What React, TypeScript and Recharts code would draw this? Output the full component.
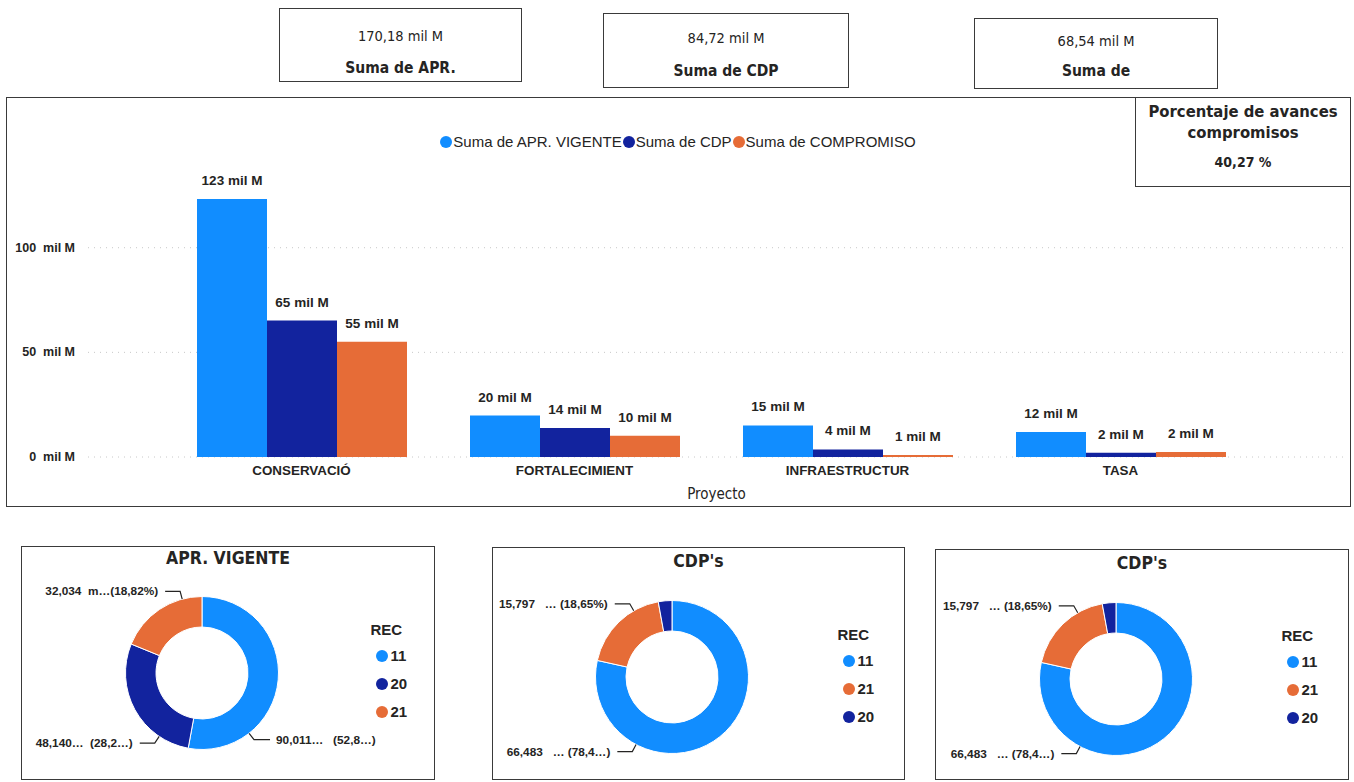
import React from "react";
import {
  BarChart,
  Bar,
  XAxis,
  YAxis,
  CartesianGrid,
  LabelList,
  Legend,
  Label,
  PieChart,
  Pie,
  Cell,
} from "recharts";

// --- data ---
const proyectos = ["CONSERVACIÓ", "FORTALECIMIENT", "INFRAESTRUCTUR", "TASA"];
const aprVigente = [123.3, 19.8, 15.1, 12.0];
const cdp = [65.2, 13.9, 3.6, 2.0];
const compromiso = [55.1, 10.1, 0.9, 2.4];
const yTicks = [0, 50, 100];

const kpiValues = ["170,18 mil M", "84,72 mil M", "68,54 mil M"];
const kpiTitles = ["Suma de APR.", "Suma de CDP", "Suma de"];

const aprRec = ["11", "20", "21"];
const aprValues = [90.011, 48.14, 32.034];
const aprLabels = ["90,011…   (52,8…)", "48,140…  (28,2…)", "32,034  m…(18,82%)"];

const cdpRec = ["11", "21", "20"];
const cdpValues = [66.483, 15.797, 2.44];
const cdpLabels = ["66,483   … (78,4…)", "15,797   … (18,65%)", ""];

const LIGHT = "#118DFF";
const DARK = "#12239E";
const ORANGE = "#E66C37";
const TEXT = "#252423";
const recColor: Record<string, string> = { "11": LIGHT, "20": DARK, "21": ORANGE };

const SANS = "'Liberation Sans', Arial, sans-serif";
const COND = "'DejaVu Sans Condensed', 'Liberation Sans Narrow', 'Liberation Sans', sans-serif";

const barData = proyectos.map((p, i) => ({
  proyecto: p,
  apr: aprVigente[i],
  cdp: cdp[i],
  comp: compromiso[i],
}));

const box = (left: number, top: number, width: number, height: number): React.CSSProperties => ({
  position: "absolute",
  left,
  top,
  width,
  height,
  border: "1.5px solid #3a3a3a",
  boxSizing: "border-box",
  background: "#fff",
});

const BarLegend = ({ payload }: any) => (
  <div
    style={{
      display: "flex",
      justifyContent: "center",
      alignItems: "center",
      fontFamily: SANS,
      fontSize: 15,
      color: TEXT,
    }}
  >
    {(payload || []).map((p: any) => (
      <span key={p.value} style={{ display: "flex", alignItems: "center", marginRight: 1 }}>
        <span
          style={{ width: 12, height: 12, borderRadius: 6, background: p.color, marginRight: 1 }}
        />
        {p.value}
      </span>
    ))}
  </div>
);

const RecLegend = ({ payload, order }: any) => {
  const items = [...(payload || [])].sort(
    (a: any, b: any) => order.indexOf(a.value) - order.indexOf(b.value)
  );
  return (
    <div style={{ fontFamily: SANS, color: TEXT, fontWeight: "bold" }}>
      <div style={{ fontSize: 15, marginBottom: 4 }}>REC</div>
      {items.map((p: any) => (
        <div key={p.value} style={{ display: "flex", alignItems: "center", height: 28, fontSize: 15 }}>
          <span
            style={{
              width: 12,
              height: 12,
              borderRadius: 6,
              background: p.color,
              marginLeft: 5,
              marginRight: 3,
            }}
          />
          {p.value}
        </div>
      ))}
    </div>
  );
};

const BarValueLabel = (props: any) => {
  const { x, y, width, value } = props;
  return (
    <text
      x={x + width / 2}
      y={y - 14}
      textAnchor="middle"
      fontFamily={SANS}
      fontSize={13.5}
      fontWeight="bold"
      fill={TEXT}
    >
      {`${Math.round(Number(value))} mil M`}
    </text>
  );
};

const YTick = (props: any) => {
  const { x, y, payload } = props;
  return (
    <text
      x={x}
      y={y}
      textAnchor="end"
      dominantBaseline="central"
      fontFamily={SANS}
      fontSize={12.5}
      fontWeight="bold"
      fill={TEXT}
      xmlSpace="preserve"
      style={{ whiteSpace: "pre" }}
    >
      {`${payload.value}  mil M`}
    </text>
  );
};

const makeLabel = (texts: string[], angles: (number | null)[]) => (props: any) => {
  const { cx, cy, outerRadius, index } = props;
  const a = angles[index];
  if (a == null || !texts[index]) return null;
  const rad = (a * Math.PI) / 180;
  const x0 = cx + outerRadius * Math.cos(rad);
  const y0 = cy - outerRadius * Math.sin(rad);
  const x1 = cx + (outerRadius + 8) * Math.cos(rad);
  const y1 = cy - (outerRadius + 8) * Math.sin(rad);
  const right = Math.cos(rad) > 0;
  const x2 = x1 + (right ? 16 : -15);
  return (
    <g>
      <polyline
        points={`${x0},${y0} ${x1},${y1} ${x2},${y1}`}
        fill="none"
        stroke={TEXT}
        strokeWidth={1.2}
      />
      <text
        x={x2 + (right ? 6 : -7)}
        y={y1}
        textAnchor={right ? "start" : "end"}
        dominantBaseline="central"
        fontFamily={SANS}
        fontSize={11.8}
        fontWeight="bold"
        fill={TEXT}
        xmlSpace="preserve"
        style={{ whiteSpace: "pre" }}
      >
        {texts[index]}
      </text>
    </g>
  );
};

interface DonutProps {
  title: string;
  recs: string[];
  values: number[];
  labels: string[];
  labelAngles: (number | null)[];
  left: number;
  top: number;
  width: number;
  height: number;
  cx: number;
  cy: number;
  legendLeft: number;
  legendTop: number;
  titleTop: number;
}

const Donut: React.FC<DonutProps> = (p) => {
  const data = p.recs.map((r, i) => ({ name: r, value: p.values[i] }));
  return (
    <div style={box(p.left, p.top, p.width, p.height)}>
      <div
        style={{
          position: "absolute",
          top: p.titleTop,
          width: "100%",
          textAlign: "center",
          fontFamily: COND,
          fontWeight: "bold",
          fontSize: 17.5,
          color: TEXT,
        }}
      >
        {p.title}
      </div>
      <div style={{ position: "absolute", left: -1.5, top: -1.5 }}>
        <PieChart width={p.width} height={p.height} margin={{ top: 0, right: 0, bottom: 0, left: 0 }}>
          <Pie
            data={data}
            dataKey="value"
            nameKey="name"
            cx={p.cx}
            cy={p.cy}
            innerRadius={46}
            outerRadius={76.5}
            startAngle={90}
            endAngle={-270}
            stroke="#fff"
            strokeWidth={1}
            labelLine={false}
            label={makeLabel(p.labels, p.labelAngles)}
            isAnimationActive={false}
          >
            {data.map((d) => (
              <Cell key={d.name} fill={recColor[d.name]} />
            ))}
          </Pie>
          <Legend
            layout="vertical"
            align="center"
            verticalAlign="middle"
            content={<RecLegend order={p.recs} />}
            wrapperStyle={{ left: p.legendLeft, top: p.legendTop, width: 60 }}
          />
        </PieChart>
      </div>
    </div>
  );
};

const kpiBoxes = [
  { left: 279, top: 8, width: 243, height: 74, v: 37, t: 69 },
  { left: 603, top: 13, width: 246, height: 75, v: 39, t: 72 },
  { left: 974, top: 18, width: 244, height: 71, v: 42, t: 72 },
];

export default function App() {
  return (
    <div
      style={{
        position: "absolute",
        left: 0,
        top: 0,
        width: 1354,
        height: 782,
        background: "#fff",
        overflow: "hidden",
      }}
    >
      {kpiBoxes.map((b, i) => (
        <div key={i} style={box(b.left, b.top, b.width, b.height)}>
          <div
            style={{
              position: "absolute",
              top: b.v - b.top - 10,
              width: "100%",
              textAlign: "center",
              fontFamily: COND,
              fontSize: 14.5,
              color: TEXT,
            }}
          >
            {kpiValues[i]}
          </div>
          <div
            style={{
              position: "absolute",
              top: b.t - b.top - 11,
              width: "100%",
              textAlign: "center",
              fontFamily: COND,
              fontWeight: "bold",
              fontSize: 15.5,
              color: TEXT,
            }}
          >
            {kpiTitles[i]}
          </div>
        </div>
      ))}

      {/* main clustered column chart */}
      <div style={box(6, 97, 1345, 410)} />
      <div style={{ position: "absolute", left: 7, top: 97 }}>
        <BarChart
          width={1343}
          height={409}
          data={barData}
          margin={{ top: 67, right: 5, bottom: 5, left: 11 }}
          barCategoryGap={32}
          barGap={0}
        >
          <CartesianGrid
            vertical={false}
            horizontalValues={yTicks}
            stroke="#c8c8c8"
            strokeDasharray="1 5"
          />
          <XAxis
            dataKey="proyecto"
            axisLine={false}
            tickLine={false}
            height={44}
            padding={{ left: 77, right: 88 }}
            tick={{ fontFamily: SANS, fontSize: 13.4, fontWeight: "bold", fill: TEXT }}
          >
            <Label
              value="Proyecto"
              position="insideBottom"
              offset={2}
              style={{ fontFamily: COND, fontSize: 15, fill: TEXT }}
            />
          </XAxis>
          <YAxis
            width={70}
            domain={[0, 140]}
            ticks={yTicks}
            axisLine={false}
            tickLine={false}
            tickMargin={7}
            tick={<YTick />}
          />
          <Legend
            layout="vertical"
            align="center"
            verticalAlign="middle"
            content={<BarLegend />}
            wrapperStyle={{ left: 0, top: 36, width: 1343 }}
          />
          {[
            { key: "apr", name: "Suma de APR. VIGENTE", color: LIGHT },
            { key: "cdp", name: "Suma de CDP", color: DARK },
            { key: "comp", name: "Suma de COMPROMISO", color: ORANGE },
          ].map((s) => (
            <Bar key={s.key} dataKey={s.key} name={s.name} fill={s.color} isAnimationActive={false}>
              <LabelList dataKey={s.key} content={<BarValueLabel />} />
            </Bar>
          ))}
        </BarChart>
      </div>

      {/* KPI: porcentaje */}
      <div style={box(1135, 97, 216, 90)}>
        <div
          style={{
            position: "absolute",
            top: 3,
            width: "100%",
            textAlign: "center",
            fontFamily: COND,
            fontWeight: "bold",
            fontSize: 16.5,
            lineHeight: "21px",
            color: TEXT,
          }}
        >
          Porcentaje de avances
          <br />
          compromisos
        </div>
        <div
          style={{
            position: "absolute",
            top: 56,
            width: "100%",
            textAlign: "center",
            fontFamily: COND,
            fontWeight: "bold",
            fontSize: 14,
            color: TEXT,
          }}
        >
          40,27 %
        </div>
      </div>

      <Donut
        title="APR. VIGENTE"
        recs={aprRec}
        values={aprValues}
        labels={aprLabels}
        labelAngles={[308, 236, 105]}
        left={21}
        top={546}
        width={414}
        height={234}
        cx={181}
        cy={127}
        legendLeft={350}
        legendTop={75}
        titleTop={1}
      />
      <Donut
        title="CDP's"
        recs={cdpRec}
        values={cdpValues}
        labels={cdpLabels}
        labelAngles={[242, 120, null]}
        left={492}
        top={547}
        width={413}
        height={233}
        cx={180}
        cy={130}
        legendLeft={346}
        legendTop={79}
        titleTop={3}
      />
      <Donut
        title="CDP's"
        recs={cdpRec}
        values={cdpValues}
        labels={cdpLabels}
        labelAngles={[242, 120, null]}
        left={935}
        top={549}
        width={414}
        height={231}
        cx={181}
        cy={130}
        legendLeft={347}
        legendTop={78}
        titleTop={3}
      />
    </div>
  );
}
